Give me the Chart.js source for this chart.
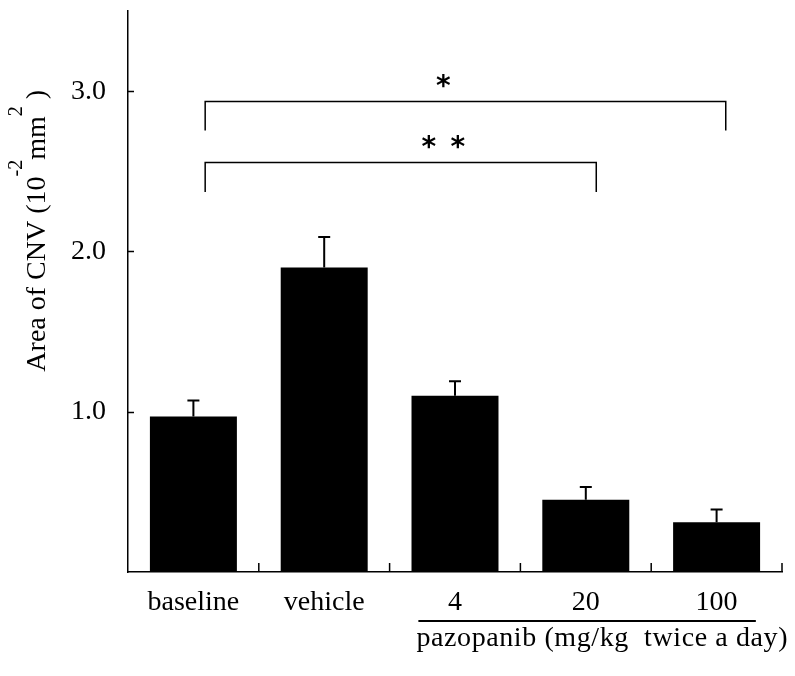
<!DOCTYPE html>
<html>
<head>
<meta charset="utf-8">
<script src="https://cdn.jsdelivr.net/npm/chart.js@4.4.0/dist/chart.umd.min.js"></script>
<style>
    body { margin: 0; background: #fff; }
</style>
</head>
<body>
<canvas id="grafico" width="795" height="676"></canvas>
<script>
const categorias = ['baseline', 'vehicle', '4', '20', '100'];
const valores = [0.97, 1.90, 1.10, 0.45, 0.31];
const errores = [0.10, 0.19, 0.09, 0.08, 0.08];
const marcasY = [1, 2, 3];

// corchetes de significancia (en unidades de los ejes)
const corcheteDesde = [0.09, 0.09];
const corcheteHasta = [4.07, 3.08];
const corcheteNivel = [2.94, 2.555];
const corchetePata = [2.755, 2.37];
const asteriscos = [1, 2];          // cuantos asteriscos lleva cada corchete
const asteriscoNivel = [3.065, 2.685];
const asteriscoX = 1.91;

const tituloY = [['Area of CNV (10', 0], ['-2', 1], ['mm', 0], ['2', 1], [' )', 0]];
const tituloGrupo = 'pazopanib (mg/kg  twice a day)';

const fuente = '"Liberation Serif", "Times New Roman", serif';

function dibujarAsterisco(ctx, cx, cy) {
    ctx.font = 'bold 28px "DejaVu Sans"';
    const m = ctx.measureText('*');
    ctx.textAlign = 'center';
    ctx.textBaseline = 'alphabetic';
    ctx.fillText('*', cx, cy + (m.actualBoundingBoxAscent - m.actualBoundingBoxDescent) / 2);
}

const extras = {
    id: 'extras',
    afterDatasetsDraw(chart) {
        const ctx = chart.ctx;
        const x = chart.scales.x;
        const y = chart.scales.y;
        const area = chart.chartArea;
        ctx.save();
        ctx.strokeStyle = '#000';
        ctx.fillStyle = '#000';

        // barras de error (solo la mitad superior)
        ctx.lineWidth = 2;
        valores.forEach((v, i) => {
            const cx = x.getPixelForValue(i);
            const y0 = y.getPixelForValue(v);
            const y1 = y.getPixelForValue(v + errores[i]);
            ctx.beginPath();
            ctx.moveTo(cx, y0);
            ctx.lineTo(cx, y1);
            ctx.moveTo(cx - 6, y1);
            ctx.lineTo(cx + 6, y1);
            ctx.stroke();
        });

        // marcas hacia adentro en los ejes
        ctx.lineWidth = 1.5;
        ctx.beginPath();
        marcasY.forEach(v => {
            const py = Math.round(y.getPixelForValue(v)) + 0.5;
            ctx.moveTo(area.left, py);
            ctx.lineTo(area.left + 6, py);
        });
        categorias.forEach((c, i) => {
            const px = x.getPixelForValue(i + 0.5);
            ctx.moveTo(px, area.bottom);
            ctx.lineTo(px, area.bottom - 9);
        });
        ctx.stroke();

        // corchetes
        ctx.lineWidth = 1.5;
        corcheteNivel.forEach((nivel, i) => {
            const xl = x.getPixelForValue(corcheteDesde[i]);
            const xr = x.getPixelForValue(corcheteHasta[i]);
            const yn = Math.round(y.getPixelForValue(nivel)) + 0.5;
            const yp = y.getPixelForValue(corchetePata[i]);
            ctx.beginPath();
            ctx.moveTo(xl, yp);
            ctx.lineTo(xl, yn);
            ctx.lineTo(xr, yn);
            ctx.lineTo(xr, yp);
            ctx.stroke();

            const cx = x.getPixelForValue(asteriscoX);
            const cy = y.getPixelForValue(asteriscoNivel[i]);
            if (asteriscos[i] === 1) {
                dibujarAsterisco(ctx, cx, cy);
            } else {
                dibujarAsterisco(ctx, cx - 14.5, cy);
                dibujarAsterisco(ctx, cx + 14.5, cy);
            }
        });

        // linea y texto del grupo pazopanib
        ctx.lineWidth = 2;
        ctx.beginPath();
        ctx.moveTo(x.getPixelForValue(1.72), area.bottom + 49);
        ctx.lineTo(x.getPixelForValue(4.3), area.bottom + 49);
        ctx.stroke();
        ctx.font = '28px ' + fuente;
        ctx.textAlign = 'left';
        ctx.textBaseline = 'alphabetic';
        ctx.letterSpacing = '0.6px';
        ctx.fillText(tituloGrupo, x.getPixelForValue(1.72) - 2, area.bottom + 74);
        ctx.letterSpacing = '0px';

        // titulo del eje y con superindices
        ctx.translate(area.left - 83, y.getPixelForValue(1.25));
        ctx.rotate(-Math.PI / 2);
        let pos = 0;
        tituloY.forEach(([texto, sup]) => {
            ctx.font = (sup ? 20 : 28) + 'px ' + fuente;
            ctx.fillText(texto, pos, sup ? -23 : 0);
            pos += ctx.measureText(texto).width;
        });
        ctx.restore();
    }
};

new Chart(document.getElementById('grafico'), {
    type: 'bar',
    data: {
        labels: categorias,
        datasets: [{
            data: valores,
            backgroundColor: '#000',
            borderWidth: 0,
            barPercentage: 0.665,
            categoryPercentage: 1
        }]
    },
    options: {
        responsive: false,
        animation: false,
        layout: { padding: { top: 11, right: 13, left: 0, bottom: 0 } },
        plugins: {
            legend: { display: false },
            tooltip: { enabled: false }
        },
        scales: {
            x: {
                grid: { display: false, drawTicks: false },
                border: { display: true, color: '#000', width: 1.5 },
                ticks: {
                    color: '#000',
                    font: { family: fuente, size: 28 },
                    padding: 14,
                    maxRotation: 0,
                    autoSkip: false
                },
                afterFit(s) { s.height = 104; s.paddingLeft = 0; s.paddingRight = 0; }
            },
            y: {
                min: 0,
                max: 3.5,
                grid: { display: false, drawTicks: false },
                border: { display: true, color: '#000', width: 1.5 },
                ticks: {
                    color: '#000',
                    font: { family: fuente, size: 28 },
                    padding: 22,
                    callback: v => v.toFixed(1)
                },
                afterBuildTicks(s) { s.ticks = marcasY.map(v => ({ value: v })); },
                afterFit(s) { s.width = 128; s.paddingTop = 0; s.paddingBottom = 0; }
            }
        }
    },
    plugins: [extras]
});
</script>
</body>
</html>
